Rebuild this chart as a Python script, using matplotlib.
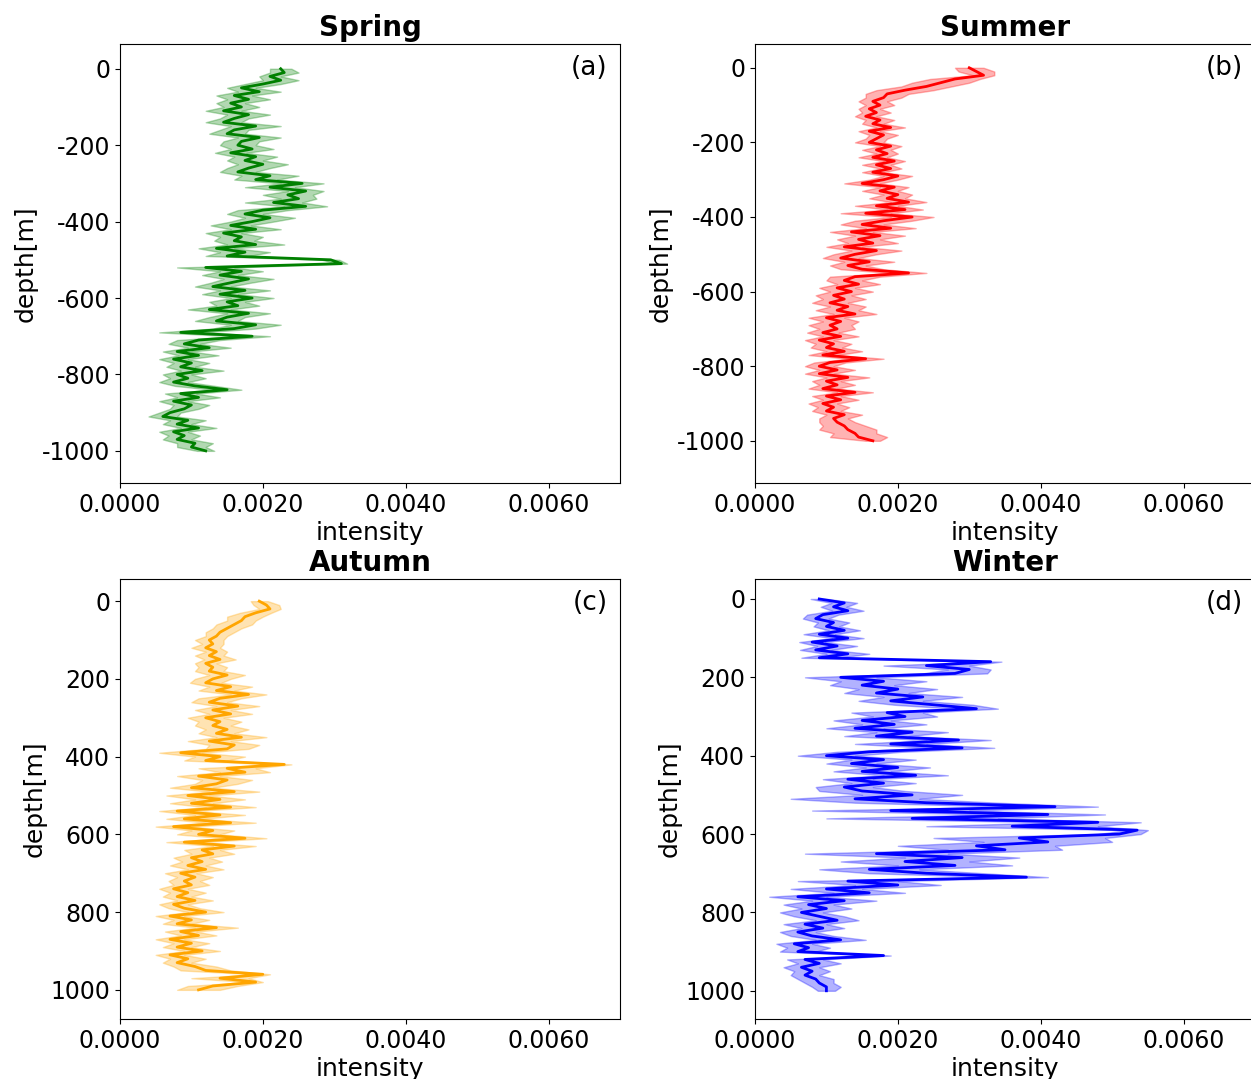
"""Seasonal intensity-depth profiles (mean with spread band), four panels."""

import numpy as np
import matplotlib
matplotlib.use("Agg")
import matplotlib.pyplot as plt
from matplotlib.ticker import FormatStrFormatter

plt.rcParams['axes.unicode_minus'] = False

SCALE = 1e-4  # values below are in units of 1e-4
depth = list(range(0, 1001, 10))

spring_mean = [22.5, 23, 21, 22.5, 20, 17, 19.5, 16, 18, 15.5,
               17, 14.5, 18, 16, 14.5, 19, 16, 15, 19.5, 17,
               16.5, 18.5, 15.5, 19, 17.5, 20, 18, 16.5, 21, 19,
               25.5, 21, 26, 23.5, 25, 21.5, 26, 20, 17.5, 21,
               18.5, 15.5, 19, 14.5, 17, 16, 19, 13.5, 17.5, 15,
               29.5, 31, 12, 17, 14, 18, 15.5, 13, 17.5, 14,
               18.5, 15, 16.5, 12.5, 18, 15, 13.5, 19, 16, 8.5,
               18.5, 11, 9, 12.5, 8, 11, 7.5, 10, 8.5, 11.5,
               8, 9.5, 7.5, 10.5, 15, 8.5, 11, 7.5, 10, 9,
               7, 6, 9.5, 8, 11, 7.5, 9, 8, 10.5, 10, 12]
spring_std = [1.5, 2.0, 1.5, 2.5, 2.5, 2.0, 3.0, 2.5, 3.0, 2.0,
              2.5, 2.5, 3.0, 2.0, 2.5, 3.5, 2.0, 2.5, 3.0, 2.5,
              2.5, 3.0, 2.2, 3.0, 2.5, 3.5, 3.0, 2.5, 4.0, 3.0,
              3.0, 3.5, 2.5, 3.5, 2.5, 4.0, 3.0, 3.5, 2.5, 3.5,
              3.0, 2.8, 3.5, 2.5, 3.0, 2.8, 4.0, 2.5, 3.5, 3.0,
              1.2, 0.8, 4.0, 3.0, 2.5, 3.5, 2.8, 2.5, 3.5, 2.5,
              3.0, 2.5, 3.0, 3.0, 3.0, 2.5, 3.0, 3.5, 3.0, 3.0,
              2.5, 3.0, 2.2, 3.0, 2.0, 2.8, 2.0, 2.5, 2.0, 3.0,
              2.0, 2.5, 2.0, 2.8, 2.0, 2.2, 3.0, 2.0, 2.5, 2.0,
              1.5, 2.0, 2.5, 2.0, 2.5, 2.0, 2.2, 2.0, 2.5, 2.0, 1.2]

summer_mean = [30, 31, 32, 28, 26, 24, 21, 18.5, 18, 16.5,
               17.5, 16, 17, 15.5, 17.5, 16.5, 19, 16, 18, 17,
               16, 19, 17, 18.5, 16.5, 19.5, 17, 19, 16.5, 20,
               18, 15, 19.5, 17.5, 20, 18.5, 21.5, 17, 21, 15.5,
               22, 18, 15, 19, 13.5, 17.5, 14.5, 16.5, 12.5, 17,
               14, 12, 16, 13, 15, 21.5, 14, 12.5, 14.5, 11.5,
               13.5, 11, 12.5, 10.5, 13, 11.5, 14, 10, 12, 10.5,
               11.5, 9.5, 12, 9, 11, 10, 12.5, 9.5, 15.5, 10.5,
               9, 11.5, 9, 13, 10, 11.5, 9.5, 14, 10, 12,
               9.5, 11, 10, 12.5, 11, 11.5, 12.5, 13, 14, 14.5, 16.5]
summer_std = [2.0, 2.5, 1.5, 3.5, 4.0, 3.5, 4.0, 3.0, 2.5, 2.0,
              2.0, 1.5, 2.0, 1.5, 2.0, 1.5, 2.0, 1.5, 2.0, 1.5,
              2.0, 1.5, 2.0, 1.5, 2.0, 1.5, 2.0, 1.5, 1.5, 2.0,
              2.0, 2.5, 2.0, 2.5, 2.0, 2.5, 2.5, 3.0, 2.5, 3.5,
              3.0, 4.0, 3.0, 3.5, 3.0, 3.5, 3.0, 3.5, 2.5, 3.5,
              3.0, 2.5, 3.5, 2.5, 3.0, 2.5, 3.5, 2.5, 3.0, 2.5,
              3.0, 2.5, 3.0, 2.5, 2.5, 3.0, 3.0, 2.5, 2.5, 3.0,
              2.5, 2.2, 2.5, 2.0, 2.5, 2.2, 2.5, 2.0, 2.5, 2.2,
              2.0, 2.5, 2.0, 3.0, 2.0, 2.5, 2.0, 2.5, 2.0, 2.5,
              2.0, 2.2, 2.0, 2.5, 2.0, 2.5, 3.0, 4.0, 3.0, 4.0, 1.0]

autumn_mean = [19.5, 20.5, 21, 19, 17.5, 17, 16, 15, 14, 13.5,
               12.5, 13, 12, 13.5, 12.5, 14, 12, 13, 12.5, 15,
               13, 12, 15.5, 13.5, 18, 14, 12.5, 16.5, 13, 15.5,
               12, 14, 13, 15, 13.5, 17, 12.5, 16, 15, 8.5,
               14, 12, 23, 15, 17.5, 11, 15, 13.5, 10, 16,
               9.5, 14, 10, 15.5, 8, 14, 9, 15.5, 7.5, 13,
               11, 17.5, 9, 16, 11.5, 13, 10, 11.5, 9.5, 12,
               8.5, 10.5, 9, 10, 7.5, 9.5, 8, 10.5, 7.5, 9,
               12, 7, 10, 8, 13.5, 8.5, 11, 7, 10, 8,
               11.5, 7, 9.5, 8, 10.5, 12, 20, 14, 19, 13, 11]
autumn_std = [1.2, 1.8, 1.5, 2.2, 2.5, 2.0, 2.5, 2.0, 2.0, 1.5,
              2.0, 1.5, 2.0, 1.5, 2.0, 2.2, 1.5, 2.0, 2.0, 2.5,
              2.5, 2.2, 3.0, 2.5, 2.5, 3.0, 2.5, 3.0, 2.5, 3.0,
              2.5, 3.0, 2.5, 3.0, 2.5, 3.5, 3.0, 3.5, 3.0, 3.0,
              3.5, 3.0, 1.0, 4.0, 3.5, 3.0, 3.5, 3.0, 3.0, 3.5,
              3.0, 3.5, 3.0, 3.5, 2.5, 3.5, 2.5, 3.5, 2.5, 3.0,
              3.0, 3.0, 2.5, 3.0, 2.5, 3.0, 2.5, 2.8, 2.5, 2.5,
              2.2, 2.5, 2.2, 2.5, 2.0, 2.5, 2.0, 2.5, 2.0, 2.2,
              2.5, 2.0, 2.5, 2.0, 3.0, 2.2, 2.5, 2.0, 2.5, 2.0,
              2.5, 2.0, 2.5, 2.0, 3.0, 3.5, 1.0, 4.0, 1.0, 3.5, 3.0]

winter_mean = [9, 12.5, 11, 13, 9.5, 8.5, 11, 10, 12.5, 9,
               13, 8, 11.5, 8.5, 13, 9, 33, 24, 30, 28,
               12, 18, 15, 20, 17, 23.5, 19, 25, 31, 18.5,
               21, 15, 19.5, 14, 22, 17, 28.5, 19, 29, 16,
               10, 18, 13.5, 20, 15, 22.5, 13, 18, 12.5, 15,
               22, 14, 24, 42, 19, 41, 22, 48, 36, 53.5,
               51, 37, 41, 31, 35, 17, 29, 21, 28, 16,
               24, 38, 13, 20, 10, 16, 6, 12.5, 7.5, 10,
               6.5, 9, 11.5, 7, 9.5, 6, 8, 12, 5.5, 7.5,
               6, 18, 7, 9, 6.5, 8, 7, 8.5, 9, 10, 10]
winter_std = [1.2, 1.8, 1.8, 2.2, 2.2, 1.8, 2.2, 1.8, 2.2, 2.2,
              2.2, 1.8, 2.8, 2.2, 3.0, 2.5, 1.5, 6.0, 3.0, 4.5,
              5.0, 6.0, 4.5, 5.5, 4.5, 5.5, 4.5, 5.5, 3.0, 5.0,
              4.5, 4.0, 4.5, 4.0, 5.0, 4.5, 4.5, 5.0, 4.5, 4.5,
              4.0, 4.5, 3.5, 4.5, 4.0, 4.5, 3.5, 4.5, 4.0, 6.0,
              7.0, 9.0, 10.0, 6.0, 11.0, 8.0, 12.0, 6.0, 12.0, 1.5,
              3.0, 12.0, 9.0, 11.0, 8.0, 10.0, 8.0, 9.0, 8.0, 7.0,
              8.0, 3.0, 7.0, 6.0, 5.0, 5.0, 4.0, 4.5, 3.5, 3.5,
              3.0, 3.5, 3.0, 3.0, 3.0, 2.5, 3.0, 3.5, 2.5, 3.0,
              2.5, 1.0, 2.5, 3.0, 2.5, 2.5, 2.0, 2.5, 2.0, 2.0, 1.2]

seasons = ["Spring", "Summer", "Autumn", "Winter"]
letters = ["(a)", "(b)", "(c)", "(d)"]
colors = ["green", "red", "orange", "blue"]
means = [spring_mean, summer_mean, autumn_mean, winter_mean]
stds = [spring_std, summer_std, autumn_std, winter_std]

# axes rectangles [left, bottom, width, height] in figure fraction
boxes = [[0.0959, 0.5524, 0.3997, 0.4069],
         [0.6035, 0.5524, 0.3997, 0.4069],
         [0.0959, 0.0556, 0.3997, 0.4078],
         [0.6035, 0.0556, 0.3997, 0.4078]]
ylims = [(-1084, 65), (-1113, 64), (1075, -57), (1072, -51)]

fig = plt.figure(figsize=(12.51, 10.79), dpi=100)

for i in range(4):
    ax = fig.add_axes(boxes[i])
    d = np.array(depth, dtype=float)
    if i < 2:
        d = -d  # top row plotted as negative depth
    m = np.array(means[i]) * SCALE
    s = np.array(stds[i]) * SCALE
    ax.fill_betweenx(d, m - s, m + s, color=colors[i], alpha=0.3, lw=1)
    ax.plot(m, d, color=colors[i], lw=2)

    ax.set_xlim(0, 0.007)
    ax.set_ylim(*ylims[i])
    ax.set_xticks([0, 0.002, 0.004, 0.006])
    ax.xaxis.set_major_formatter(FormatStrFormatter('%.4f'))
    if i < 2:
        ax.set_yticks([0, -200, -400, -600, -800, -1000])
    else:
        ax.set_yticks([0, 200, 400, 600, 800, 1000])
    ax.tick_params(labelsize=17)
    ax.set_xlabel("intensity", fontsize=18, labelpad=3)
    ax.set_ylabel("depth[m]", fontsize=18, labelpad=3)
    ax.set_title(seasons[i], fontsize=20, fontweight='bold', pad=6)
    ax.text(0.975, 0.975, letters[i], transform=ax.transAxes,
            ha='right', va='top', fontsize=19)

fig.savefig("out.png", dpi=100)
